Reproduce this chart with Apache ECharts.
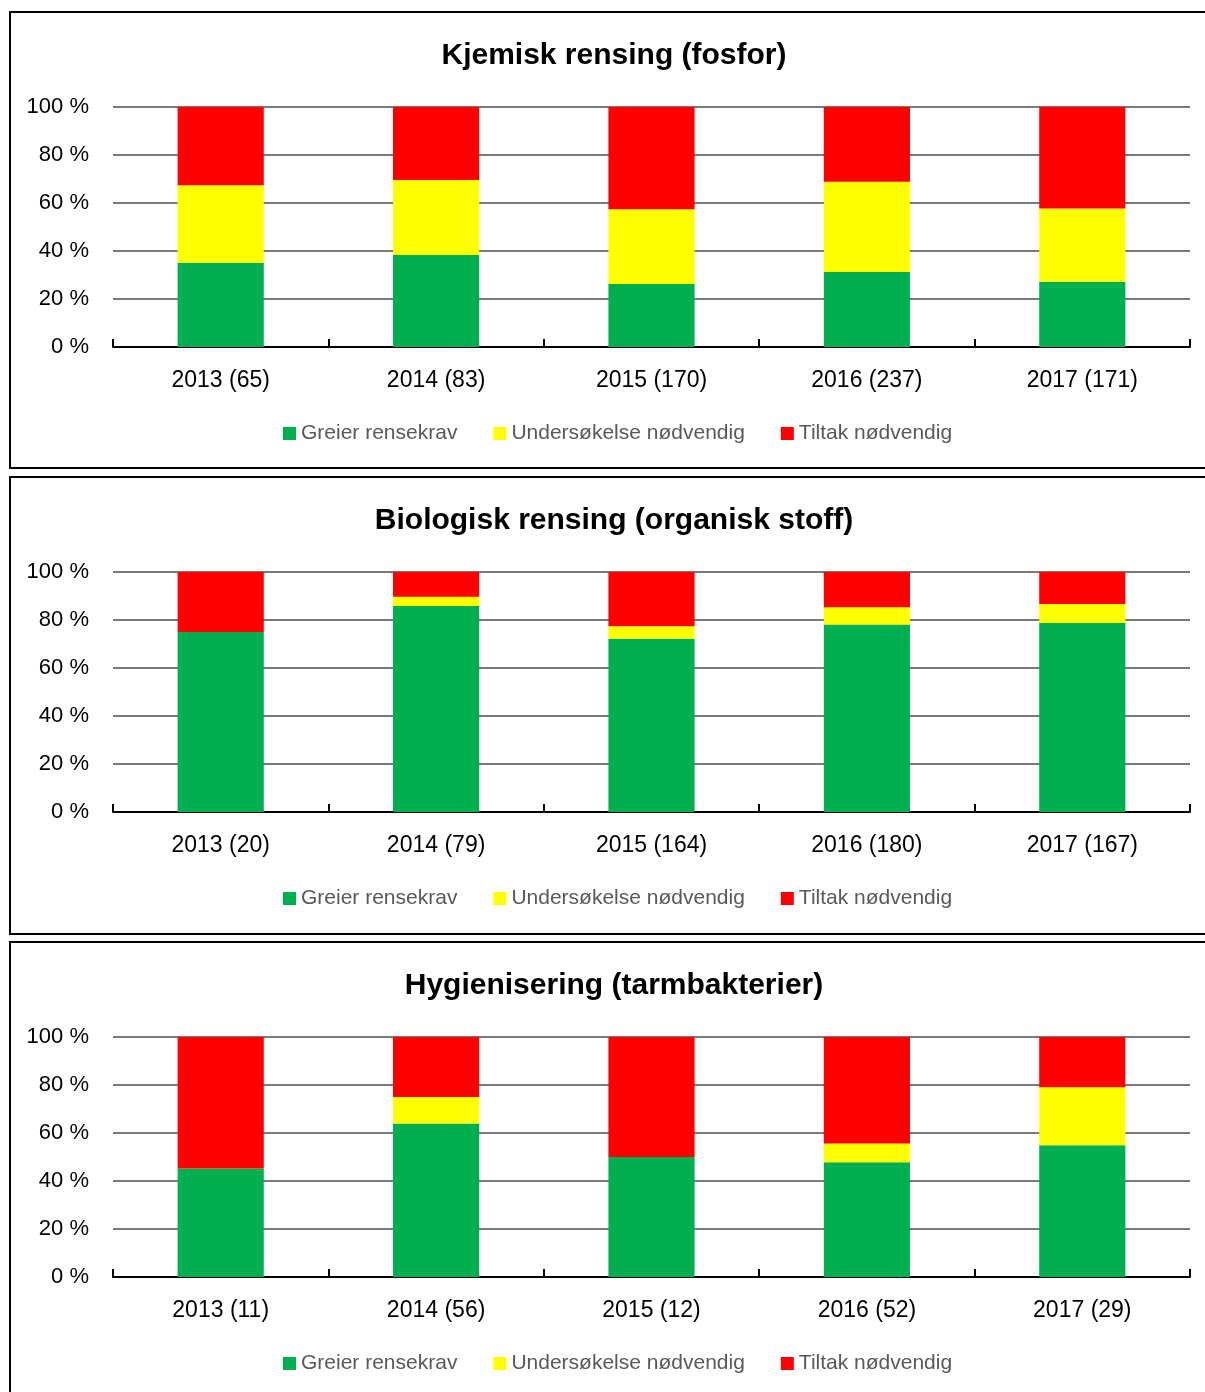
<!DOCTYPE html>
<html>
<head>
<meta charset="utf-8">
<script src="https://cdn.jsdelivr.net/npm/echarts@6/dist/echarts.min.js"></script>
<style>
  html, body { margin: 0; padding: 0; background: #fff; }
  #chart { width: 1205px; height: 1392px; }
</style>
</head>
<body>
<div id="chart"></div>
<script>
// 三个面板的标题
var titles = ['Kjemisk rensing (fosfor)', 'Biologisk rensing (organisk stoff)', 'Hygienisering (tarmbakterier)'];
var seriesNames = ['Greier rensekrav', 'Undersøkelse nødvendig', 'Tiltak nødvendig'];

// 类别（年份 + 数量）
var cat1 = ['2013 (65)', '2014 (83)', '2015 (170)', '2016 (237)', '2017 (171)'];
var cat2 = ['2013 (20)', '2014 (79)', '2015 (164)', '2016 (180)', '2017 (167)'];
var cat3 = ['2013 (11)', '2014 (56)', '2015 (12)', '2016 (52)', '2017 (29)'];

// 百分比
var green1 = [35.1, 38.3, 26.2, 31.3, 27.2];
var yellow1 = [32.3, 31.3, 31.2, 37.6, 30.5];
var red1 = [32.6, 30.4, 42.6, 31.1, 42.3];

var green2 = [75.0, 85.8, 72.2, 78.1, 78.8];
var yellow2 = [0, 3.9, 5.2, 7.2, 7.9];
var red2 = [25.0, 10.3, 22.6, 14.7, 13.3];

var green3 = [45.2, 64.0, 50.0, 47.8, 54.9];
var yellow3 = [0, 11.0, 0, 7.8, 24.2];
var red3 = [54.8, 25.0, 50.0, 44.4, 20.9];

var colors = ['#00B050', '#FFFF00', '#FF0000'];
var font = 'Liberation Sans';

var panels = [
    { cats: cat1, data: [green1, yellow1, red1], top: 12 },
    { cats: cat2, data: [green2, yellow2, red2], top: 477 },
    { cats: cat3, data: [green3, yellow3, red3], top: 942 }
];

var option = {
    backgroundColor: '#fff',
    animation: false,
    title: [],
    legend: [],
    grid: [],
    xAxis: [],
    yAxis: [],
    series: [],
    graphic: []
};

panels.forEach(function (p, i) {
    var off = p.top - 12;
    option.title.push({
        text: titles[i],
        left: 609,
        textAlign: 'center',
        top: 36 + off,
        textStyle: { fontFamily: font, fontSize: 30, fontWeight: 'bold', color: '#000' }
    });
    option.legend.push({
        data: seriesNames,
        left: 283,
        top: 423 + off,
        padding: 0,
        icon: 'rect',
        itemWidth: 13,
        itemHeight: 13,
        itemGap: 36,
        textStyle: { fontFamily: font, fontSize: 21, color: '#595959' }
    });
    option.grid.push({ left: 113, right: 15, top: 107 + off, height: 240 });
    option.xAxis.push({
        type: 'category',
        gridIndex: i,
        data: p.cats,
        axisLine: { show: true, lineStyle: { color: '#000', width: 2 } },
        axisTick: { show: true, inside: true, interval: 0, alignWithLabel: false, length: 8, lineStyle: { color: '#000', width: 2 } },
        axisLabel: { margin: 22, fontFamily: font, fontSize: 23, color: '#000' }
    });
    option.yAxis.push({
        type: 'value',
        gridIndex: i,
        min: 0,
        max: 100,
        interval: 20,
        axisLine: { show: false },
        axisTick: { show: false },
        axisLabel: { margin: 24, fontFamily: font, fontSize: 22, color: '#000', formatter: '{value} %' },
        splitLine: { lineStyle: { color: '#7a7a7a', width: 2 } }
    });
    for (var s = 0; s < 3; s++) {
        option.series.push({
            name: seriesNames[s],
            type: 'bar',
            stack: 'p' + i,
            xAxisIndex: i,
            yAxisIndex: i,
            barWidth: '40%',
            itemStyle: { color: colors[s] },
            data: p.data[s]
        });
    }
    // 面板边框
    var h = i === 2 ? 470 : (i === 0 ? 456 : 457);
    option.graphic.push({
        type: 'rect',
        shape: { x: 10, y: p.top, width: 1210, height: h },
        style: { fill: 'none', stroke: '#000', lineWidth: 2 }
    });
});

var chart = echarts.init(document.getElementById('chart'));
chart.setOption(option);
</script>
</body>
</html>
